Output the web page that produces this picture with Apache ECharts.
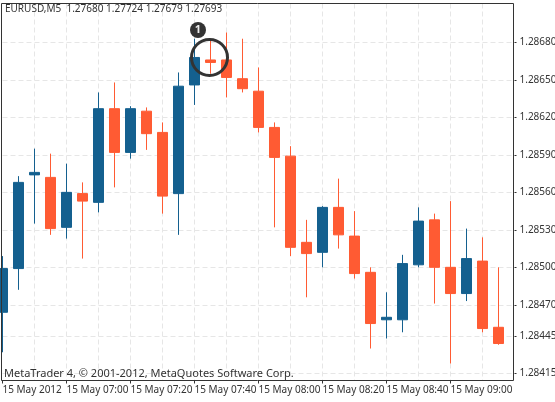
<!DOCTYPE html>
<html><head><meta charset="utf-8">
<style>html,body{margin:0;padding:0;background:#fff}#c{width:555px;height:402px}</style>
<script src="https://cdn.jsdelivr.net/npm/echarts@6/dist/echarts.min.js"></script>
</head><body><div id="c"></div>
<script>
const times = ['06:40','06:45','06:50','06:55','07:00','07:05','07:10','07:15','07:20','07:25','07:30','07:35','07:40','07:45','07:50','07:55','08:00','08:05','08:10','08:15','08:20','08:25','08:30','08:35','08:40','08:45','08:50','08:55','09:00','09:05','09:10','09:15',''];
const opens  = [1.28464,1.28499,1.28574,1.28572,1.28532,1.28559,1.28552,1.28627,1.28592,1.28625,1.28608,1.28559,1.28646,1.28666,1.28666,1.28651,1.28641,1.28612,1.28589,1.28520,1.28512,1.28548,1.28525,1.28496,1.28458,1.28458,1.28502,1.28538,1.28500,1.28479,1.28505,1.28452];
const closes = [1.28499,1.28568,1.28576,1.28531,1.28560,1.28553,1.28627,1.28592,1.28627,1.28607,1.28557,1.28645,1.28668,1.28664,1.28652,1.28643,1.28612,1.28588,1.28516,1.28511,1.28548,1.28526,1.28495,1.28455,1.28460,1.28503,1.28537,1.28500,1.28479,1.28507,1.28451,1.28439];
const lows   = [1.28432,1.28482,1.28535,1.28526,1.28523,1.28507,1.28544,1.28564,1.28587,1.28594,1.28543,1.28526,1.28630,1.28655,1.28636,1.28640,1.28608,1.28532,1.28509,1.28476,1.28500,1.28515,1.28491,1.28435,1.28443,1.28448,1.28500,1.28471,1.28423,1.28473,1.28448,1.28438];
const highs  = [1.28509,1.28573,1.28595,1.28591,1.28583,1.28568,1.28640,1.28648,1.28629,1.28628,1.28616,1.28656,1.28683,1.28683,1.28688,1.28683,1.28660,1.28616,1.28597,1.28538,1.28549,1.28571,1.28545,1.28500,1.28480,1.28510,1.28548,1.28543,1.28553,1.28531,1.28524,1.28500];
const priceTicks = [1.28415,1.28445,1.28470,1.28500,1.28530,1.28560,1.28590,1.28620,1.28650,1.28680];
const headerText = 'EURUSD,M5  1.27680 1.27724 1.27679 1.27693';
const footerText = 'MetaTrader 4, \u00a9 2001-2012, MetaQuotes Software Corp.';
const UP = '#14608f', DOWN = '#ff5b33', INK = '#333333', GRID = '#e6e6e6';
const FONT = '"Noto Sans"';

const chart = echarts.init(document.getElementById('c'), null, {renderer:'canvas'});
chart.setOption({
  animation:false,
  backgroundColor:'#ffffff',
  title:[
    {text:headerText,left:5,top:4,padding:0,textStyle:{fontFamily:FONT,fontSize:10,fontWeight:'normal',color:INK}},
    {text:footerText,left:4,top:368,padding:0,textStyle:{fontFamily:FONT,fontSize:11,fontWeight:'normal',color:INK}}
  ],
  grid:{left:2.5,top:3.5,width:512,height:377,containLabel:false,outerBoundsMode:'none'},
  xAxis:{
    type:'category',data:times,boundaryGap:false,
    axisLine:{show:false,onZero:false},
    axisTick:{show:true,length:3,interval:i=>i%4===0&&i<32,lineStyle:{color:INK}},
    axisLabel:{show:true,interval:i=>i%4===0&&i<32,align:'left',margin:5,fontFamily:FONT,fontSize:10,color:INK,hideOverlap:false,
      formatter:(v,i)=>i===0?'15 May 2012':'15 May '+v},
    splitLine:{show:true,interval:i=>i%2===0&&i>0&&i<32,lineStyle:{color:GRID,type:[5,3],width:1}}
  },
  yAxis:{
    type:'value',position:'right',min:1.284094,max:1.287112,scale:true,
    axisLine:{show:false,onZero:false},
    axisTick:{show:true,length:2,customValues:priceTicks,lineStyle:{color:INK}},
    axisLabel:{show:true,customValues:priceTicks,margin:5,fontFamily:FONT,fontSize:10,color:INK,formatter:v=>v.toFixed(5)},
    splitLine:{show:true,lineStyle:{color:GRID,type:[5,3],width:1}}
  },
  graphic:[{type:'rect',silent:true,z:50,shape:{x:1.5,y:3.5,width:512,height:377},style:{fill:null,stroke:INK,lineWidth:1}}],
  series:[{
    type:'candlestick',barWidth:11,
    data:opens.map((o,i)=>[o,closes[i],lows[i],highs[i]]),
    itemStyle:{color:UP,color0:DOWN,borderColor:UP,borderColor0:DOWN,borderColorDoji:UP,borderWidth:1},
    markPoint:{
      silent:true,animation:false,
      data:[
        {coord:[13,1.28668],symbolOffset:[-1,0],symbol:'circle',symbolSize:36,itemStyle:{color:'rgba(0,0,0,0)',borderColor:INK,borderWidth:3},label:{show:false}},
        {coord:[12,1.28690],symbolOffset:[3.5,0],symbol:'circle',symbolSize:16,itemStyle:{color:INK},label:{show:true,position:'inside',formatter:'1',color:'#eeeeee',fontWeight:'bold',fontFamily:FONT,fontSize:11}}
      ]
    }
  }]
});
</script></body></html>
